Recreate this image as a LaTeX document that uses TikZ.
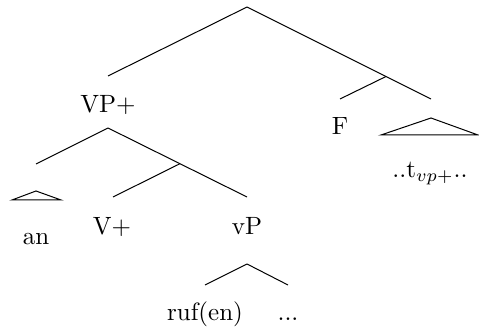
\documentclass[tikz,border=0pt]{standalone}
\usepackage{amsmath}
\usetikzlibrary{calc,positioning}
\tikzset{
  lbl/.style={inner sep=0pt,anchor=base},
  edge/.style={line width=0.4pt,black},
  roof/.style={line width=0.4pt,black,line join=miter}
}

\begin{document}
\begin{tikzpicture}[x=0.4pt,y=-0.4pt]
  \useasboundingbox (0,0) rectangle (479,330);
  % top level
  \coordinate (r)   at (247,7);
  \coordinate (vpe) at (108,76);
  \coordinate (fpe) at (431,99);
  \coordinate (fb)  at (386,76.5);
  \coordinate (fe)  at (340,99);
  \draw[edge] (r)--(vpe); \draw[edge] (r)--(fpe); \draw[edge] (fb)--(fe);
  \node[lbl] (f) at (340,135) {F};
  \coordinate (ta) at (431,118);
  \draw[roof] (ta)--(381,135)--(478,135)--cycle;
  \node[lbl] (t) at (430,178) {..t$_{vp+}$..};
  % VP+ subtree
  \node[lbl] (vp) at (108,113) {VP+};
  \coordinate (vpa) at (108,128);
  \coordinate (ane) at (36,164);
  \coordinate (vpr) at (247,197);
  \coordinate (vb)  at (180,163.7);
  \coordinate (ve)  at (113,197);
  \draw[edge] (vpa)--(ane); \draw[edge] (vpa)--(vpr); \draw[edge] (vb)--(ve);
  \coordinate (aa) at (36,191);
  \draw[roof] (aa)--(12,200)--(61,200)--cycle;
  \node[lbl] (an) at (36,245) {an};
  \node[lbl] (v)  at (112,235) {V+};
  \node[lbl] (sv) at (247,235) {vP};
  % vP subtree
  \coordinate (sva) at (247,264);
  \coordinate (rfe) at (205,285);
  \coordinate (dte) at (288,285);
  \draw[edge] (sva)--(rfe); \draw[edge] (sva)--(dte);
  \node[lbl] (rf) at (205,321) {ruf(en)};
  \node[lbl] (dt) at (288,321) {...};
\end{tikzpicture}
\end{document}
